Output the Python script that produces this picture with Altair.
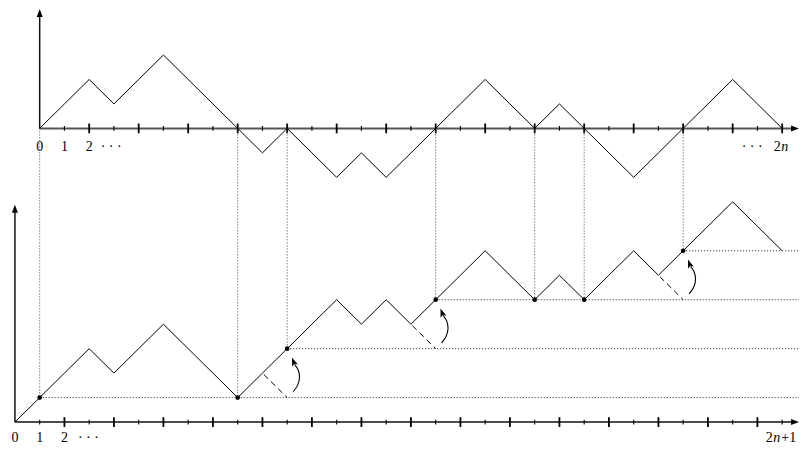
import altair as alt
import pandas as pd

# ---------------- data ----------------
top_x = list(range(31))                      # upper path, steps 0..2n (2n = 30)
top_h = [0, 1, 2, 1, 2, 3, 2, 1, 0, -1, 0, -1, -2, -1, -2, -1, 0,
         1, 2, 1, 0, 1, 0, -1, -2, -1, 0, 1, 2, 1, 0]
bottom_x = list(range(32))                   # lower path, steps 0..2n+1
bottom_h = [0, 1, 2, 3, 2, 3, 4, 3, 2, 1, 2, 3, 4, 5, 4, 5, 4, 5, 6, 7,
            6, 5, 6, 5, 6, 7, 6, 7, 8, 9, 8, 7]
dot_k = [1, 9, 11, 17, 21, 23, 27]           # marked points on lower path
dot_h = [1, 1, 3, 5, 5, 5, 7]
flip_k = [11, 17, 27]                        # reflected steps
flip_h = [3, 5, 7]
level_k = [1, 11, 17, 27]                    # dotted horizontal levels
level_h = [1, 3, 5, 7]
top_labels = ["0", "1", "2"]
bottom_labels = ["0", "1", "2"]

TOP = 12            # baseline of the upper panel in the shared coordinate system
SHIFT = 1           # upper step t sits above lower step t+1
XMIN, XMAX = -0.28, 31.68
YMIN, YMAX = -1.1, 16.92
W, H = 791, 441

xs = alt.Scale(domain=[XMIN, XMAX], nice=False, zero=False)
ys = alt.Scale(domain=[YMIN, YMAX], nice=False, zero=False)


def X(f="x"):
    return alt.X(f"{f}:Q", scale=xs, axis=None)


def Y(f="y"):
    return alt.Y(f"{f}:Q", scale=ys, axis=None)


layers = []

# ---------- axes ----------
axes_df = pd.DataFrame([
    dict(x=SHIFT, x2=XMAX - 0.17, y=TOP, y2=TOP, c="#555555", w=2.0),
    dict(x=SHIFT, x2=SHIFT, y=TOP, y2=YMAX - 0.3, c="#111111", w=1.5),
    dict(x=0, x2=XMAX - 0.17, y=0, y2=0, c="#111111", w=1.5),
    dict(x=0, x2=0, y=0, y2=8.6, c="#111111", w=1.5),
])
for _, r in axes_df.iterrows():
    layers.append(
        alt.Chart(pd.DataFrame([r])).mark_rule(color=r.c, strokeWidth=r.w).encode(
            x=X(), x2="x2:Q", y=Y(), y2="y2:Q"))

arrow_shape = "M0,-1L0.75,1L-0.75,1Z"
axis_heads = pd.DataFrame(dict(
    x=[SHIFT, XMAX - 0.16, 0, XMAX - 0.16],
    y=[YMAX - 0.2, TOP, 8.72, 0],
    a=[0, 90, 0, 90]))
layers.append(alt.Chart(axis_heads).mark_point(
    shape=arrow_shape, filled=True, size=64, color="black", opacity=1).encode(
    x=X(), y=Y(), angle=alt.Angle("a:Q", scale=None)))

# ---------- ticks ----------
top_ticks = pd.DataFrame(dict(t=list(range(1, 31))))
top_ticks["x"] = top_ticks.t + SHIFT
top_ticks["major"] = top_ticks.t % 2 == 0
bot_ticks = pd.DataFrame(dict(t=list(range(1, 32))))
bot_ticks["x"] = bot_ticks.t
bot_ticks["major"] = bot_ticks.t % 2 == 0
for df, base in [(top_ticks, TOP), (bot_ticks, 0)]:
    maj = df[df.major].copy()
    maj["y"] = base - 0.2
    maj["y2"] = base + 0.2
    mn = df[~df.major].copy()
    mn["y"] = base - 0.1
    mn["y2"] = base + 0.1
    layers.append(alt.Chart(maj).mark_rule(color="black", strokeWidth=1.8).encode(
        x=X(), y=Y(), y2="y2:Q"))
    layers.append(alt.Chart(mn).mark_rule(color="black", strokeWidth=1.1).encode(
        x=X(), y=Y(), y2="y2:Q"))

# ---------- dotted guides ----------
vert = pd.DataFrame(dict(x=dot_k, y=[TOP] * len(dot_k), y2=dot_h))
layers.append(alt.Chart(vert).mark_rule(color="#444444", strokeWidth=1,
                                        strokeDash=[1, 2]).encode(
    x=X(), y=Y(), y2="y2:Q"))
horiz = pd.DataFrame(dict(x=level_k, x2=[XMAX] * len(level_k), y=level_h))
layers.append(alt.Chart(horiz).mark_rule(color="#222222", strokeWidth=1,
                                         strokeDash=[1, 2]).encode(
    x=X(), x2="x2:Q", y=Y()))

# ---------- paths ----------
top_df = pd.DataFrame(dict(x=[t + SHIFT for t in top_x], y=[TOP + h for h in top_h]))
layers.append(alt.Chart(top_df).mark_line(color="black", strokeWidth=1).encode(
    x=X(), y=Y()))
bot_df = pd.DataFrame(dict(x=bottom_x, y=bottom_h))
layers.append(alt.Chart(bot_df).mark_line(color="black", strokeWidth=1).encode(
    x=X(), y=Y()))

# dashed original (unreflected) steps
dash_df = pd.DataFrame(dict(x=[k - 1 for k in flip_k], y=[h - 1 for h in flip_h],
                            x2=flip_k, y2=[h - 2 for h in flip_h]))
layers.append(alt.Chart(dash_df).mark_rule(color="black", strokeWidth=1,
                                           strokeDash=[6, 4], strokeDashOffset=8).encode(
    x=X(), y=Y(), x2="x2:Q", y2="y2:Q"))

# curved arrows showing the reflection
curve_off = [(0.24, -1.76), (0.42, -1.5), (0.5, -1.16), (0.44, -0.86), (0.3, -0.64)]
rows = []
for j, (k, h) in enumerate(zip(flip_k, flip_h)):
    for i, (dx, dy) in enumerate(curve_off):
        rows.append(dict(arrow=j, i=i, x=k + dx, y=h + dy))
curve_df = pd.DataFrame(rows)
layers.append(alt.Chart(curve_df).mark_line(color="black", strokeWidth=1.1,
                                            interpolate="natural").encode(
    x=X(), y=Y(), detail="arrow:N", order="i:Q"))
head_df = pd.DataFrame(dict(x=[k + 0.26 for k in flip_k], y=[h - 0.54 for h in flip_h],
                            a=[340] * len(flip_k)))
layers.append(alt.Chart(head_df).mark_point(
    shape="M0,-1L0.65,0.85L0,0.4L-0.65,0.85Z", filled=True, size=90,
    color="black", opacity=1).encode(x=X(), y=Y(), angle=alt.Angle("a:Q", scale=None)))

# dots
dots_df = pd.DataFrame(dict(x=dot_k, y=dot_h))
layers.append(alt.Chart(dots_df).mark_circle(color="black", size=22, opacity=1).encode(
    x=X(), y=Y()))

# ---------- labels ----------
FONT = "Liberation Serif, DejaVu Serif, serif"
FS = 14
ty = TOP - 0.76
by = -0.64


def txt(df, dx=0, italic=False, align="center"):
    return alt.Chart(df).mark_text(font=FONT, fontSize=FS, dx=dx, align=align,
                                   baseline="middle", color="black",
                                   fontStyle="italic" if italic else "normal").encode(
        x=X(), y=Y(), text="text:N")


layers.append(txt(pd.DataFrame(dict(x=[i + SHIFT for i in range(3)], y=[ty] * 3,
                                    text=top_labels))))
layers.append(txt(pd.DataFrame(dict(x=list(range(3)), y=[by] * 3, text=bottom_labels))))
layers.append(txt(pd.DataFrame(dict(x=[2 + SHIFT], y=[ty], text=["· · ·"])), dx=22))
layers.append(txt(pd.DataFrame(dict(x=[2], y=[by], text=["· · ·"])), dx=24))
# "· · · 2n" (upper)
layers.append(txt(pd.DataFrame(dict(x=[31], y=[ty], text=["· · ·"])), dx=-30))
layers.append(txt(pd.DataFrame(dict(x=[31], y=[ty], text=["2"])), dx=-5))
layers.append(txt(pd.DataFrame(dict(x=[31], y=[ty], text=["n"])), dx=2.5, italic=True))
# "2n+1" (lower)
layers.append(txt(pd.DataFrame(dict(x=[31], y=[by], text=["2"])), dx=-13))
layers.append(txt(pd.DataFrame(dict(x=[31], y=[by], text=["n"])), dx=-5.5, italic=True))
layers.append(txt(pd.DataFrame(dict(x=[31], y=[by], text=["+"])), dx=3))
layers.append(txt(pd.DataFrame(dict(x=[31], y=[by], text=["1"])), dx=10.5))

chart = alt.layer(*layers).properties(
    width=W, height=H, padding=0,
    autosize=alt.AutoSizeParams(type="none"),
    background="white",
).configure_view(stroke=None)

chart.save("out.html", embed_options={"renderer": "svg", "actions": False})
